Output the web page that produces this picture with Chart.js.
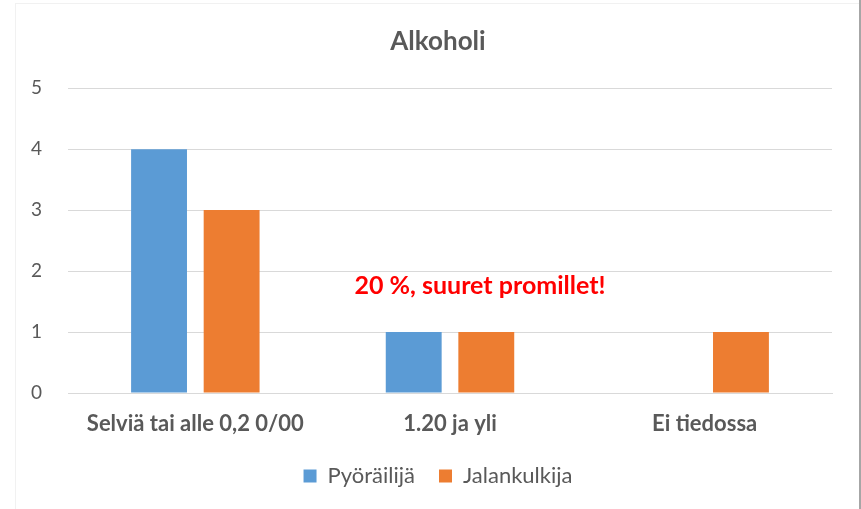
<!DOCTYPE html>
<html>
<head>
<meta charset="utf-8">
<script src="https://cdn.jsdelivr.net/npm/chart.js@4/dist/chart.umd.min.js"></script>
<style>
  html, body { margin: 0; padding: 0; background: #fff; }
  #wrap { position: relative; width: 859px; height: 509px; border-right: 2px solid #a6a6a6; }
  #frame { position: absolute; left: 15px; top: 3px; right: 0; bottom: 0; border-left: 1px solid #f1f1f1; border-top: 1px solid #f1f1f1; pointer-events: none; }
</style>
</head>
<body>
<div id="wrap"><canvas id="alkoholiChart"></canvas><div id="frame"></div></div>
<script>
const categories = ["Selviä tai alle 0,2 0/00", "1.20 ja yli", "Ei tiedossa"];
const cyclists = [4, 1, 0];
const pedestrians = [3, 1, 1];
const seriesNames = ["Pyöräilijä", "Jalankulkija"];
const yTicks = [0, 1, 2, 3, 4, 5];
const note = "20 %, suuret promillet!";

const textGray = "#595959";

// red remark floating between the groups
const notePlugin = {
  id: "note",
  afterDatasetsDraw(chart) {
    const { ctx, scales } = chart;
    const x = scales.x.getPixelForValue(1) + 30;
    const y = scales.y.getPixelForValue(1.76);
    ctx.save();
    ctx.font = "bold 25px Lato";
    ctx.fillStyle = "#ff0000";
    ctx.textAlign = "center";
    ctx.textBaseline = "middle";
    ctx.fillText(note, x, y);
    ctx.restore();
  },
};

const canvas = document.getElementById("alkoholiChart");
new Chart(canvas, {
  type: "bar",
  data: {
    labels: categories,
    datasets: [
      {
        label: seriesNames[0],
        data: cyclists,
        backgroundColor: "#5b9bd5",
        borderWidth: 0,
      },
      {
        label: seriesNames[1],
        data: pedestrians,
        backgroundColor: "#ed7d31",
        borderWidth: 0,
      },
    ],
  },
  options: {
    responsive: true,
    maintainAspectRatio: false,
    animation: false,
    categoryPercentage: 0.57,
    barPercentage: 0.77,
    layout: { padding: { left: 44, right: 27, bottom: 12 } },
    scales: {
      x: {
        afterFit(scale) { scale.height = 48; },
        grid: { display: false, drawTicks: false },
        border: { color: "#d9d9d9", width: 1 },
        ticks: {
          color: textGray,
          font: { family: "Lato", size: 22, weight: "bold" },
          padding: 18,
          maxRotation: 0,
        },
      },
      y: {
        min: 0,
        max: 5,
        afterFit(scale) { scale.width = 24; },
        afterBuildTicks(scale) { scale.ticks = yTicks.map(v => ({ value: v })); },
        grid: { color: "#d9d9d9", drawTicks: false },
        border: { display: false },
        // mirrored so the labels are not clipped to the narrow axis box
        ticks: {
          mirror: true,
          crossAlign: "far",
          color: textGray,
          font: { family: "Lato", size: 19 },
          padding: -37,
        },
      },
    },
    plugins: {
      title: {
        display: true,
        text: "Alkoholi",
        color: textGray,
        font: { family: "Lato", size: 26, weight: "bold" },
        padding: { top: 26, bottom: 31 },
      },
      legend: {
        position: "bottom",
        labels: {
          boxWidth: 13,
          boxHeight: 13,
          padding: 24,
          color: textGray,
          font: { family: "Lato", size: 22 },
        },
      },
      tooltip: { enabled: false },
    },
  },
  plugins: [notePlugin],
});
</script>
</body>
</html>
